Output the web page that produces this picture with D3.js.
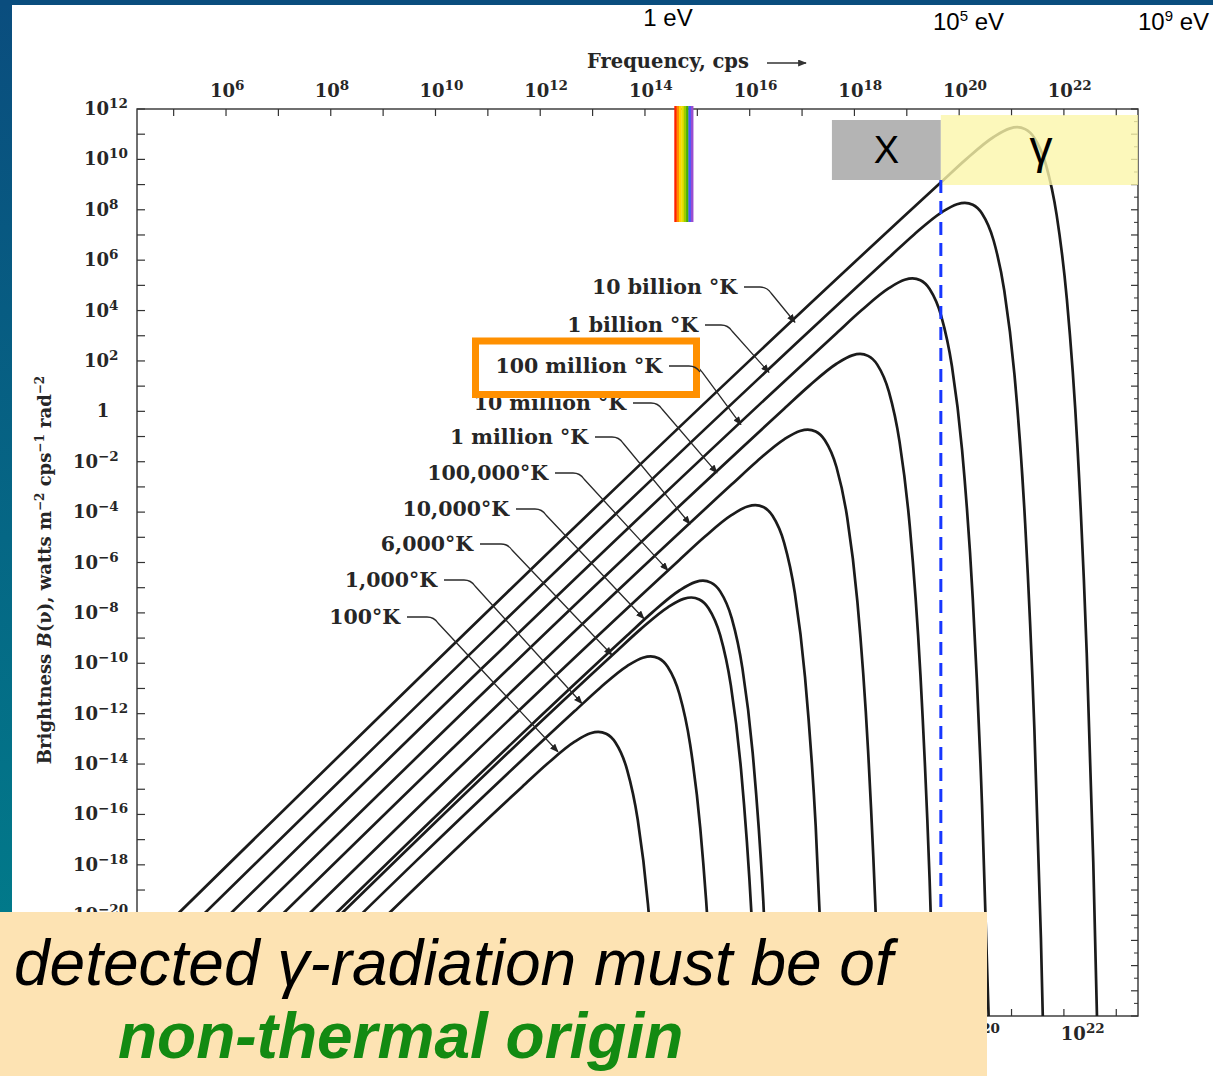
<!DOCTYPE html>
<html>
<head>
<meta charset="utf-8">
<script src="https://cdn.jsdelivr.net/npm/d3@7"></script>
<style>
  html, body { margin: 0; padding: 0; background: #ffffff; }
  svg { display: block; }
</style>
</head>
<body>
<svg id="chart" width="1213" height="1076"></svg>
<script>
// ---------------------------------------------------------------
// Blackbody brightness B(ν) vs frequency, log–log.
// Each curve is a list of samples: log10 ν (cps) and log10 B.
// ---------------------------------------------------------------
const curveNames = [
  "10 billion °K", "1 billion °K", "100 million °K", "10 million °K",
  "1 million °K", "100,000°K", "10,000°K", "6,000°K", "1,000°K", "100°K"
];

const curveLogNu = [
  [3.096, 19.658, 20.135, 20.658, 20.959, 21.108, 21.260, 21.436, 21.658, 21.862, 22.056, 22.260, 22.436, 22.561, 22.658],
  [3.596, 18.658, 19.135, 19.658, 19.959, 20.108, 20.260, 20.436, 20.658, 20.862, 21.056, 21.260, 21.436, 21.561, 21.658],
  [4.096, 17.658, 18.135, 18.658, 18.959, 19.108, 19.260, 19.436, 19.658, 19.862, 20.056, 20.260, 20.436, 20.561, 20.658],
  [4.596, 16.658, 17.135, 17.658, 17.959, 18.108, 18.260, 18.436, 18.658, 18.862, 19.056, 19.260, 19.436, 19.561],
  [5.096, 15.658, 16.135, 16.658, 16.959, 17.108, 17.260, 17.436, 17.658, 17.862, 18.056, 18.260, 18.436, 18.561],
  [5.596, 14.658, 15.135, 15.658, 15.959, 16.108, 16.260, 16.436, 16.658, 16.862, 17.056, 17.260, 17.436],
  [6.096, 13.658, 14.135, 14.658, 14.959, 15.108, 15.260, 15.436, 15.658, 15.862, 16.056, 16.260, 16.436],
  [6.207, 13.436, 13.913, 14.436, 14.737, 14.886, 15.038, 15.214, 15.436, 15.640, 15.834, 16.038, 16.214],
  [6.596, 12.658, 13.135, 13.658, 13.959, 14.108, 14.260, 14.436, 14.658, 14.862, 15.056, 15.260, 15.436],
  [7.096, 11.658, 12.135, 12.658, 12.959, 13.108, 13.260, 13.436, 13.658, 13.862, 14.056, 14.260]
];

const curveLogB = [
  [-24, 9.102, 10.011, 10.889, 11.222, 11.277, 11.201, 10.854, 9.781, 7.788, 4.460, -1.442, -9.599, -17.906, -26.306],
  [-24, 6.102, 7.011, 7.889, 8.222, 8.277, 8.201, 7.854, 6.781, 4.788, 1.460, -4.442, -12.599, -20.906, -29.306],
  [-24, 3.102, 4.011, 4.889, 5.222, 5.277, 5.201, 4.854, 3.781, 1.788, -1.540, -7.442, -15.599, -23.906, -32.306],
  [-24, 0.102, 1.011, 1.889, 2.222, 2.277, 2.201, 1.854, 0.781, -1.212, -4.540, -10.442, -18.599, -26.906],
  [-24, -2.898, -1.989, -1.111, -0.778, -0.723, -0.799, -1.146, -2.219, -4.212, -7.540, -13.442, -21.599, -29.906],
  [-24, -5.898, -4.989, -4.111, -3.778, -3.723, -3.799, -4.146, -5.219, -7.212, -10.540, -16.442, -24.599],
  [-24, -8.898, -7.989, -7.111, -6.778, -6.723, -6.799, -7.146, -8.219, -10.212, -13.540, -19.442, -27.599],
  [-24, -9.564, -8.655, -7.777, -7.444, -7.389, -7.465, -7.812, -8.885, -10.878, -14.206, -20.108, -28.265],
  [-24, -11.898, -10.989, -10.111, -9.778, -9.723, -9.799, -10.146, -11.219, -13.212, -16.540, -22.442, -30.599],
  [-24, -14.898, -13.989, -13.111, -12.778, -12.723, -12.799, -13.146, -14.219, -16.212, -19.540, -25.442]
];

// Where each label's pointer touches its curve (log10 ν, log10 B)
const pointerLogNu = [16.864, 16.368, 15.833, 15.375, 14.860, 14.439, 13.981, 13.370, 12.797, 12.339];
const pointerLogB  = [3.536, 1.544, -0.526, -2.442, -4.472, -6.314, -8.230, -9.674, -11.598, -13.514];

// Axis decades
const freqTickExp    = d3.range(5, 24);          // 10^5 … 10^23
const freqLabelExp   = d3.range(6, 23, 2);       // 10^6 … 10^22
const freqBottomExp  = [20, 22];
const brightTickExp  = d3.range(-24, 13);        // 10^-24 … 10^12
const brightLabelExp = d3.range(12, -21, -2);    // 10^12 … 10^-20

// Photon energy markers along the frequency axis
const energyLabels = [
  { base: "1 eV", sup: "", tail: "" },
  { base: "10", sup: "5", tail: " eV" },
  { base: "10", sup: "9", tail: " eV" }
];

// Spectral bands (log10 ν)
const xBandLogNu = [17.57, 19.65];
const gammaBandLogNu = [19.65, 23.415];
const visibleLogNu = [14.56, 14.92];

// ---------------------------------------------------------------
const W = 1213, H = 1076;
const svg = d3.select("#chart");
const P = { left: 137, right: 1138, top: 109, bottom: 1016 };

const x = d3.scaleLog().domain([10 ** 4.30, 10 ** 23.415]).range([P.left, P.right]);
const y = d3.scaleLog().domain([1e-24, 1e12]).range([P.bottom, P.top]);

const SERIF = "'DejaVu Serif', 'Liberation Serif', serif";
const SANS = "'Liberation Sans', Arial, Helvetica, sans-serif";
const INK = "#262626";

const defs = svg.append("defs");
const grad = defs.append("linearGradient").attr("id", "edge").attr("x1", 0).attr("y1", 0).attr("x2", 0).attr("y2", 1);
grad.append("stop").attr("offset", "0%").attr("stop-color", "#0a4d7e");
grad.append("stop").attr("offset", "100%").attr("stop-color", "#00818c");

defs.append("clipPath").attr("id", "plotClip")
  .append("rect").attr("x", P.left).attr("y", P.top)
  .attr("width", P.right - P.left).attr("height", P.bottom - P.top);

defs.append("marker").attr("id", "tip")
  .attr("viewBox", "0 0 10 8").attr("refX", 9).attr("refY", 4)
  .attr("markerWidth", 9).attr("markerHeight", 7).attr("markerUnits", "userSpaceOnUse")
  .attr("orient", "auto")
  .append("path").attr("d", "M0,0 L10,4 L0,8 Z").attr("fill", "#222");

defs.append("marker").attr("id", "freqArrow")
  .attr("viewBox", "0 0 10 8").attr("refX", 9).attr("refY", 4)
  .attr("markerWidth", 11).attr("markerHeight", 7).attr("markerUnits", "userSpaceOnUse")
  .attr("orient", "auto")
  .append("path").attr("d", "M0,0 L10,4 L0,8 Z").attr("fill", "#333");

// Page background and slide frame
svg.append("rect").attr("width", W).attr("height", H).attr("fill", "#ffffff");
svg.append("rect").attr("x", 0).attr("y", 0).attr("width", 12).attr("height", H).attr("fill", "url(#edge)");
svg.append("rect").attr("x", 0).attr("y", 0).attr("width", W).attr("height", 5).attr("fill", "#0a4d7e");

// ---- Axes frame ----
const axisG = svg.append("g").attr("stroke", "#333").attr("fill", "none");
axisG.append("rect")
  .attr("x", P.left).attr("y", P.top)
  .attr("width", P.right - P.left).attr("height", P.bottom - P.top)
  .attr("stroke-width", 1.4);

freqTickExp.forEach(e => {
  const xx = x(10 ** e);
  axisG.append("line").attr("x1", xx).attr("x2", xx).attr("y1", P.top).attr("y2", P.top + 7).attr("stroke-width", 1.2);
  axisG.append("line").attr("x1", xx).attr("x2", xx).attr("y1", P.bottom).attr("y2", P.bottom - 7).attr("stroke-width", 1.2);
});
brightTickExp.forEach(e => {
  const yy = y(10 ** e);
  axisG.append("line").attr("x1", P.left).attr("x2", P.left + 8).attr("y1", yy).attr("y2", yy).attr("stroke-width", 1.2);
  axisG.append("line").attr("x1", P.right).attr("x2", P.right - 7).attr("y1", yy).attr("y2", yy).attr("stroke-width", 1.2);
});
d3.range(-24, 12).forEach(e => {
  const yy = y(10 ** (e + 0.5));
  axisG.append("line").attr("x1", P.right).attr("x2", P.right - 4).attr("y1", yy).attr("y2", yy).attr("stroke-width", 1);
});

// Power-of-ten label: "10" ends at baseEndX, exponent follows as superscript
function powLabel(g, baseEndX, yy, exp) {
  const t = g.append("text").attr("y", yy)
    .attr("font-family", SERIF).attr("font-weight", "bold").attr("font-size", 18).attr("fill", INK);
  if (exp === 0) {
    t.attr("x", baseEndX).attr("text-anchor", "middle").text("1");
    return t;
  }
  t.append("tspan").text("10");
  t.append("tspan").attr("font-size", 13.5).attr("dy", -7)
    .text(exp < 0 ? "\u2212" + Math.abs(exp) : String(exp));
  const w = t.node().firstChild.getComputedTextLength();
  t.attr("x", baseEndX - w);
  return t;
}

const labelG = svg.append("g");
freqLabelExp.forEach(e => powLabel(labelG, x(10 ** e) + 9, 97, e));
freqBottomExp.forEach(e => powLabel(labelG, x(10 ** e) + 22, 1040, e));
brightLabelExp.forEach(e => {
  const yy = y(10 ** e) + 6;
  if (e === 0) powLabel(labelG, 103, yy, 0);
  else powLabel(labelG, e > 0 ? 109 : 98, yy, e);
});

// Axis titles
svg.append("text").attr("x", 587).attr("y", 68)
  .attr("font-family", SERIF).attr("font-weight", "bold").attr("font-size", 19.5).attr("fill", INK)
  .text("Frequency, cps");
svg.append("line").attr("x1", 767).attr("x2", 806).attr("y1", 63).attr("y2", 63)
  .attr("stroke", "#333").attr("stroke-width", 1.6).attr("marker-end", "url(#freqArrow)");

const yTitle = svg.append("text")
  .attr("transform", "translate(51,570) rotate(-90)")
  .attr("text-anchor", "middle")
  .attr("font-family", SERIF).attr("font-weight", "bold").attr("font-size", 18).attr("fill", INK);
yTitle.append("tspan").text("Brightness ");
yTitle.append("tspan").attr("font-style", "italic").text("B");
yTitle.append("tspan").text("(\u03BD), watts m");
yTitle.append("tspan").attr("font-size", 12).attr("dy", -7).text("\u22122");
yTitle.append("tspan").attr("dy", 7).text(" cps");
yTitle.append("tspan").attr("font-size", 12).attr("dy", -7).text("\u22121");
yTitle.append("tspan").attr("dy", 7).text(" rad");
yTitle.append("tspan").attr("font-size", 12).attr("dy", -7).text("\u22122");

// ---- Curves ----
const line = d3.line().curve(d3.curveMonotoneX);
const curveG = svg.append("g").attr("clip-path", "url(#plotClip)");
curveNames.forEach((name, i) => {
  const pts = curveLogNu[i].map((v, j) => [x(10 ** v), y(10 ** curveLogB[i][j])]);
  curveG.append("path").attr("d", line(pts))
    .attr("fill", "none").attr("stroke", "#1b1b1b").attr("stroke-width", 2.7)
    .attr("stroke-linejoin", "round");
});

// ---- Curve labels with pointers ----
const labelLayout = [
  { endX: 737, cy: 287, hook: 16 },
  { endX: 698, cy: 325, hook: 16 },
  { endX: 662, cy: 366, hook: 22 },
  { endX: 626, cy: 403, hook: 18 },
  { endX: 588, cy: 437, hook: 17 },
  { endX: 548, cy: 473, hook: 18 },
  { endX: 509, cy: 509, hook: 19 },
  { endX: 473, cy: 544, hook: 21 },
  { endX: 437, cy: 580, hook: 20 },
  { endX: 400, cy: 617, hook: 20 }
];
const annG = svg.append("g");
curveNames.forEach((name, i) => {
  const L = labelLayout[i];
  annG.append("text").attr("x", L.endX).attr("y", L.cy + 7)
    .attr("text-anchor", "end")
    .attr("font-family", SERIF).attr("font-weight", "bold").attr("font-size", 20.5).attr("fill", INK)
    .text(name);
  const tx = x(10 ** pointerLogNu[i]), ty = y(10 ** pointerLogB[i]);
  const x0 = L.endX + 7, x1 = x0 + L.hook;
  const path = d3.path();
  path.moveTo(x0, L.cy);
  path.lineTo(x1, L.cy);
  path.quadraticCurveTo(x1 + 7, L.cy, x1 + 11, L.cy + 6);
  path.lineTo(tx, ty);
  annG.append("path").attr("d", path.toString())
    .attr("fill", "none").attr("stroke", "#2a2a2a").attr("stroke-width", 1.3)
    .attr("marker-end", "url(#tip)");
});

// Highlight box around the 100 million °K label (its white face hides the label below)
annG.append("rect").attr("x", 475.5).attr("y", 341).attr("width", 221).attr("height", 53.5)
  .attr("fill", "#ffffff").attr("stroke", "#ff9000").attr("stroke-width", 7);
annG.append("text").attr("x", 662).attr("y", 373)
  .attr("text-anchor", "end")
  .attr("font-family", SERIF).attr("font-weight", "bold").attr("font-size", 20.5).attr("fill", INK)
  .text(curveNames[2]);
annG.append("path")
  .attr("d", "M669,366 H689 Q696,366 700,372")
  .attr("fill", "none").attr("stroke", "#2a2a2a").attr("stroke-width", 1.3);

// ---- Spectral band overlays ----
const bandG = svg.append("g");
const xb0 = x(10 ** xBandLogNu[0]), xb1 = x(10 ** xBandLogNu[1]);
bandG.append("rect").attr("x", xb0).attr("y", 120).attr("width", xb1 - xb0).attr("height", 60)
  .attr("fill", "#b4b4b4");
bandG.append("text").attr("x", (xb0 + xb1) / 2).attr("y", 163)
  .attr("text-anchor", "middle").attr("font-family", SANS).attr("font-size", 38).attr("fill", "#000")
  .text("X");
const gb0 = x(10 ** gammaBandLogNu[0]), gb1 = x(10 ** gammaBandLogNu[1]);
bandG.append("rect").attr("x", gb0).attr("y", 115).attr("width", gb1 - gb0).attr("height", 70)
  .attr("fill", "#fbf6aa").attr("fill-opacity", 0.8);
bandG.append("text").attr("x", 1041).attr("y", 163)
  .attr("text-anchor", "middle").attr("font-family", SANS).attr("font-size", 46).attr("fill", "#000")
  .text("\u03B3");

// Visible-light strip
const rainbow = ["#ff2200", "#ff8a00", "#ffd200", "#e8e000", "#9ccc00", "#48b000", "#3f5dff", "#9a4dd0"];
const vx0 = x(10 ** visibleLogNu[0]), vx1 = x(10 ** visibleLogNu[1]);
const sw = (vx1 - vx0) / rainbow.length;
rainbow.forEach((c, k) => {
  bandG.append("rect").attr("x", vx0 + k * sw).attr("y", 106).attr("width", sw + 0.3).attr("height", 116)
    .attr("fill", c);
});

// Boundary between X-ray and gamma energies
bandG.append("line").attr("x1", gb0).attr("x2", gb0).attr("y1", 180).attr("y2", 1012)
  .attr("stroke", "#1737ff").attr("stroke-width", 3).attr("stroke-dasharray", "13,8");

// Energy scale labels
const eG = svg.append("g").attr("font-family", SANS).attr("font-size", 24).attr("fill", "#000");
eG.append("text").attr("x", 668).attr("y", 26).attr("text-anchor", "middle").text(energyLabels[0].base);
[[933, 1], [1138, 2]].forEach(([xx, k]) => {
  const t = eG.append("text").attr("x", xx).attr("y", 30);
  t.append("tspan").text(energyLabels[k].base);
  t.append("tspan").attr("font-size", 15).attr("dy", -9).text(energyLabels[k].sup);
  t.append("tspan").attr("dy", 9).text(energyLabels[k].tail);
});

// ---- Conclusion banner ----
svg.append("rect").attr("x", 0).attr("y", 912).attr("width", 987).attr("height", H - 912).attr("fill", "#fde3b3");
svg.append("text").attr("x", 14).attr("y", 985)
  .attr("font-family", SANS).attr("font-style", "italic").attr("font-size", 64).attr("fill", "#000")
  .text("detected \u03B3-radiation must be of");
svg.append("text").attr("x", 118).attr("y", 1058)
  .attr("font-family", SANS).attr("font-style", "italic").attr("font-weight", "bold").attr("font-size", 64)
  .attr("fill", "#138a12")
  .text("non-thermal origin");
</script>
</body>
</html>
